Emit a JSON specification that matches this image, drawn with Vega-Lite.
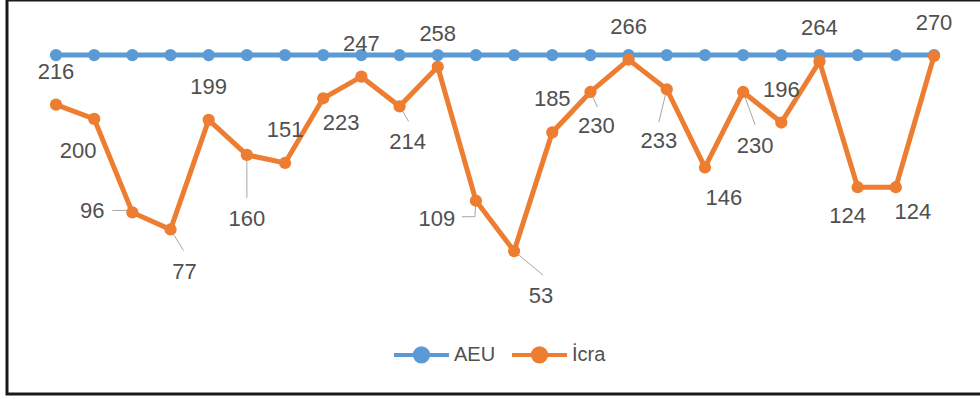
{
  "$schema": "https://vega.github.io/schema/vega-lite/v6.json",
  "autosize": {"type": "none"},
  "padding": {"left": 7, "top": 0, "right": 0, "bottom": 5},
  "width": 973,
  "height": 394,
  "background": "white",
  "config": {
    "view": {"stroke": "#1a1a1a", "strokeWidth": 3, "strokeDash": [973, 394, 1400, 0]},
    "text": {"font": "Liberation Sans", "fontSize": 22, "fill": "#505050", "baseline": "middle", "align": "center"}
  },
  "data": {
    "values": [
      {"series": "AEU", "i": 1, "v": 271}, {"series": "AEU", "i": 2, "v": 271}, {"series": "AEU", "i": 3, "v": 271}, {"series": "AEU", "i": 4, "v": 271},
      {"series": "AEU", "i": 5, "v": 271}, {"series": "AEU", "i": 6, "v": 271}, {"series": "AEU", "i": 7, "v": 271}, {"series": "AEU", "i": 8, "v": 271},
      {"series": "AEU", "i": 9, "v": 271}, {"series": "AEU", "i": 10, "v": 271}, {"series": "AEU", "i": 11, "v": 271}, {"series": "AEU", "i": 12, "v": 271},
      {"series": "AEU", "i": 13, "v": 271}, {"series": "AEU", "i": 14, "v": 271}, {"series": "AEU", "i": 15, "v": 271}, {"series": "AEU", "i": 16, "v": 271},
      {"series": "AEU", "i": 17, "v": 271}, {"series": "AEU", "i": 18, "v": 271}, {"series": "AEU", "i": 19, "v": 271}, {"series": "AEU", "i": 20, "v": 271},
      {"series": "AEU", "i": 21, "v": 271}, {"series": "AEU", "i": 22, "v": 271}, {"series": "AEU", "i": 23, "v": 271}, {"series": "AEU", "i": 24, "v": 271},
      {"series": "İcra", "i": 1, "v": 216}, {"series": "İcra", "i": 2, "v": 200}, {"series": "İcra", "i": 3, "v": 96}, {"series": "İcra", "i": 4, "v": 77},
      {"series": "İcra", "i": 5, "v": 199}, {"series": "İcra", "i": 6, "v": 160}, {"series": "İcra", "i": 7, "v": 151}, {"series": "İcra", "i": 8, "v": 223},
      {"series": "İcra", "i": 9, "v": 247}, {"series": "İcra", "i": 10, "v": 214}, {"series": "İcra", "i": 11, "v": 258}, {"series": "İcra", "i": 12, "v": 109},
      {"series": "İcra", "i": 13, "v": 53}, {"series": "İcra", "i": 14, "v": 185}, {"series": "İcra", "i": 15, "v": 230}, {"series": "İcra", "i": 16, "v": 266},
      {"series": "İcra", "i": 17, "v": 233}, {"series": "İcra", "i": 18, "v": 146}, {"series": "İcra", "i": 19, "v": 230}, {"series": "İcra", "i": 20, "v": 196},
      {"series": "İcra", "i": 21, "v": 264}, {"series": "İcra", "i": 22, "v": 124}, {"series": "İcra", "i": 23, "v": 124}, {"series": "İcra", "i": 24, "v": 270}
    ]
  },
  "encoding": {
    "x": {"field": "i", "type": "quantitative", "scale": {"domain": [-0.2836, 25.205], "nice": false, "zero": false}, "axis": null},
    "y": {"field": "v", "type": "quantitative", "scale": {"domain": [-106, 332.3], "nice": false, "zero": false}, "axis": null}
  },
  "layer": [
    {
      "transform": [{"filter": "datum.series == 'İcra' && indexof([3,4,6,10,12,13,15,17,19], datum.i) >= 0"}],
      "layer": [
        {"transform": [{"filter": "datum.i == 3"}], "mark": {"type": "rule", "color": "#a6a6a6", "strokeWidth": 1, "xOffset": -20, "yOffset": -2, "x2Offset": 0, "y2Offset": -2}, "encoding": {"x2": {"field": "i"}, "y2": {"field": "v"}}},
        {"transform": [{"filter": "datum.i == 4"}], "mark": {"type": "rule", "color": "#a6a6a6", "strokeWidth": 1, "xOffset": 0, "yOffset": 0, "x2Offset": 13, "y2Offset": 21}, "encoding": {"x2": {"field": "i"}, "y2": {"field": "v"}}},
        {"transform": [{"filter": "datum.i == 6"}], "mark": {"type": "rule", "color": "#a6a6a6", "strokeWidth": 1, "xOffset": 0, "yOffset": 3, "x2Offset": 0, "y2Offset": 43}, "encoding": {"x2": {"field": "i"}, "y2": {"field": "v"}}},
        {"transform": [{"filter": "datum.i == 10"}], "mark": {"type": "rule", "color": "#a6a6a6", "strokeWidth": 1, "xOffset": 0, "yOffset": 0, "x2Offset": 9, "y2Offset": 15}, "encoding": {"x2": {"field": "i"}, "y2": {"field": "v"}}},
        {"transform": [{"filter": "datum.i == 12"}], "mark": {"type": "rule", "color": "#a6a6a6", "strokeWidth": 1, "xOffset": -14, "yOffset": 16, "x2Offset": -1, "y2Offset": 16}, "encoding": {"x2": {"field": "i"}, "y2": {"field": "v"}}},
        {"transform": [{"filter": "datum.i == 12"}], "mark": {"type": "rule", "color": "#a6a6a6", "strokeWidth": 1, "xOffset": -1, "yOffset": 16, "x2Offset": 0, "y2Offset": 0}, "encoding": {"x2": {"field": "i"}, "y2": {"field": "v"}}},
        {"transform": [{"filter": "datum.i == 13"}], "mark": {"type": "rule", "color": "#a6a6a6", "strokeWidth": 1, "xOffset": 0, "yOffset": 0, "x2Offset": 29, "y2Offset": 24}, "encoding": {"x2": {"field": "i"}, "y2": {"field": "v"}}},
        {"transform": [{"filter": "datum.i == 15"}], "mark": {"type": "rule", "color": "#a6a6a6", "strokeWidth": 1, "xOffset": 0, "yOffset": 0, "x2Offset": 7, "y2Offset": 15}, "encoding": {"x2": {"field": "i"}, "y2": {"field": "v"}}},
        {"transform": [{"filter": "datum.i == 17"}], "mark": {"type": "rule", "color": "#a6a6a6", "strokeWidth": 1, "xOffset": 0, "yOffset": 0, "x2Offset": -8, "y2Offset": 33}, "encoding": {"x2": {"field": "i"}, "y2": {"field": "v"}}},
        {"transform": [{"filter": "datum.i == 19"}], "mark": {"type": "rule", "color": "#a6a6a6", "strokeWidth": 1, "xOffset": 0, "yOffset": 0, "x2Offset": 12, "y2Offset": 33}, "encoding": {"x2": {"field": "i"}, "y2": {"field": "v"}}}
      ]
    },
    {
      "mark": {"type": "line", "strokeWidth": 5, "point": {"filled": true, "size": 150, "opacity": 1}},
      "encoding": {
        "color": {
          "field": "series", "type": "nominal",
          "scale": {"domain": ["AEU", "İcra"], "range": ["#5b9bd5", "#ed7d31"]},
          "legend": {
            "title": null, "orient": "none", "direction": "horizontal",
            "legendX": 385, "legendY": 325,
            "symbolType": "M-1,0L1,0M0.24,0A0.24,0.24,0,1,1,-0.24,0A0.24,0.24,0,1,1,0.24,0Z",
            "symbolSize": 3025, "symbolStrokeWidth": 4,
            "labelFont": "Liberation Sans", "labelFontSize": 20, "labelColor": "#505050",
            "labelOffset": 3, "columnPadding": 8,
            "encode": {"symbols": {"update": {"fill": {"scale": "color", "field": "value"}, "opacity": {"value": 1}}}}
          }
        }
      }
    },
    {
      "transform": [{"filter": "datum.series == 'İcra'"}],
      "encoding": {"text": {"field": "v", "type": "quantitative"}},
      "layer": [
        {"transform": [{"filter": "indexof([1,5,7,9,11,14,16,20,21,24], datum.i) >= 0"}], "mark": {"type": "text", "dy": -33}},
        {"transform": [{"filter": "datum.i == 2"}], "mark": {"type": "text", "dx": -16, "dy": 32}},
        {"transform": [{"filter": "datum.i == 3"}], "mark": {"type": "text", "dx": -40, "dy": -1}},
        {"transform": [{"filter": "datum.i == 4"}], "mark": {"type": "text", "dx": 14, "dy": 43}},
        {"transform": [{"filter": "datum.i == 6"}], "mark": {"type": "text", "dx": 0, "dy": 64}},
        {"transform": [{"filter": "datum.i == 8"}], "mark": {"type": "text", "dx": 18, "dy": 25}},
        {"transform": [{"filter": "datum.i == 10"}], "mark": {"type": "text", "dx": 8, "dy": 36}},
        {"transform": [{"filter": "datum.i == 12"}], "mark": {"type": "text", "dx": -39, "dy": 18}},
        {"transform": [{"filter": "datum.i == 13"}], "mark": {"type": "text", "dx": 27, "dy": 45}},
        {"transform": [{"filter": "datum.i == 15"}], "mark": {"type": "text", "dx": 6, "dy": 34}},
        {"transform": [{"filter": "datum.i == 17"}], "mark": {"type": "text", "dx": -8, "dy": 52}},
        {"transform": [{"filter": "datum.i == 18"}], "mark": {"type": "text", "dx": 19, "dy": 31}},
        {"transform": [{"filter": "datum.i == 19"}], "mark": {"type": "text", "dx": 12, "dy": 54}},
        {"transform": [{"filter": "datum.i == 22"}], "mark": {"type": "text", "dx": -10, "dy": 29}},
        {"transform": [{"filter": "datum.i == 23"}], "mark": {"type": "text", "dx": 17, "dy": 25}}
      ]
    }
  ]
}
